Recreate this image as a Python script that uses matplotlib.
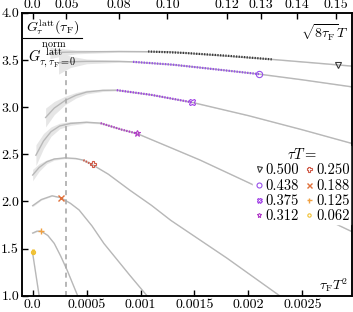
import numpy as np
import matplotlib
matplotlib.use("Agg")
import matplotlib.pyplot as plt

plt.rcParams['font.family'] = 'serif'
plt.rcParams['font.serif'] = ['cmr10', 'DejaVu Serif']
plt.rcParams['mathtext.fontset'] = 'cm'
plt.rcParams['axes.formatter.use_mathtext'] = True

# tau*T values and their plot styles
tauT = ['0.500', '0.438', '0.375', '0.312', '0.250', '0.188', '0.125', '0.062']
colors = ['#3a3a3a', '#9850ea', '#a040e6', '#b23ec8', '#d05a48', '#e0703a', '#f0a040', '#f0c030']
markers = ['v', 'o', 'X', '*', 'P', 'x', '+', 'o']

# grey fit curves (x = tau_F T^2), with band half widths
fit_x = [
    [0.00016, 0.0003, 0.0004, 0.0008, 0.00127, 0.0017, 0.00222, 0.0026, 0.00296],
    [0.00024, 0.00035, 0.0005, 0.0008, 0.00093, 0.0013, 0.00155, 0.0021, 0.0025, 0.00296],
    [0.00012, 0.0002, 0.0003, 0.0004, 0.0005, 0.00065, 0.00078, 0.0011, 0.00148, 0.002, 0.0025, 0.00296],
    [0.00003, 0.0001, 0.00017, 0.00025, 0.00035, 0.0005, 0.00063, 0.00083, 0.000967, 0.00128, 0.00155,
     0.002, 0.0025, 0.00296],
    [0.0, 0.00006, 0.00013, 0.0002, 0.0003, 0.0004, 0.00047, 0.00055, 0.0007, 0.0009, 0.0011, 0.00128,
     0.0018, 0.00229],
    [0.0, 0.00008, 0.00018, 0.00026, 0.00035, 0.00043, 0.00055, 0.00066, 0.0009, 0.00106],
    [0.0, 0.00004, 0.000078, 0.00014, 0.0002, 0.00026, 0.00032, 0.000417],
    [0.0, 0.00006],
]
fit_y = [
    [3.575, 3.582, 3.585, 3.59, 3.586, 3.55, 3.506, 3.47, 3.435],
    [3.47, 3.48, 3.485, 3.485, 3.48, 3.45, 3.42, 3.35, 3.29, 3.215],
    [2.89, 2.99, 3.07, 3.125, 3.16, 3.178, 3.18, 3.13, 3.05, 2.91, 2.76, 2.615],
    [2.49, 2.64, 2.74, 2.80, 2.827, 2.84, 2.83, 2.76, 2.72, 2.57, 2.44, 2.2, 1.93, 1.68],
    [2.28, 2.36, 2.42, 2.45, 2.462, 2.455, 2.438, 2.392, 2.29, 2.12, 1.96, 1.8, 1.40, 1.0],
    [1.955, 2.02, 2.06, 2.04, 1.98, 1.91, 1.74, 1.555, 1.218, 1.0],
    [1.665, 1.685, 1.685, 1.64, 1.555, 1.42, 1.27, 1.0],
    [1.45, 1.0],
]
fit_err = [
    [0.06, 0.035, 0.02, 0.008, 0.005, 0.004, 0.004, 0.004, 0.004],
    [0.12, 0.06, 0.025, 0.01, 0.006, 0.005, 0.005, 0.004, 0.004, 0.004],
    [0.1, 0.07, 0.045, 0.03, 0.02, 0.012, 0.008, 0.005, 0.005, 0.004, 0.004, 0.004],
    [0.11, 0.08, 0.05, 0.03, 0.02, 0.01, 0.008, 0.005, 0.005, 0.004, 0.004, 0.004, 0.004, 0.004],
    [0.06, 0.04, 0.02, 0.012, 0.008, 0.006, 0.005, 0.005, 0.004, 0.004, 0.004, 0.004, 0.004, 0.004],
    [0.01, 0.006, 0.005, 0.004, 0.004, 0.004, 0.004, 0.004, 0.004, 0.004],
    [0.006, 0.005, 0.004, 0.004, 0.004, 0.004, 0.004, 0.004],
    [0.004, 0.004],
]

# coloured lattice data segments
data_x = [
    [0.00107, 0.0014, 0.0018, 0.00222],
    [0.00093, 0.0013, 0.0017, 0.0021],
    [0.00078, 0.0011, 0.00148],
    [0.00063, 0.00083, 0.000967],
    [0.00047, 0.00055],
]
data_y = [
    [3.59, 3.575, 3.545, 3.506],
    [3.48, 3.45, 3.40, 3.35],
    [3.18, 3.13, 3.05],
    [2.83, 2.76, 2.72],
    [2.438, 2.392],
]

# flow time limit markers
mark_x = [0.00283, 0.0021, 0.00148, 0.000967, 0.000556, 0.000263, 0.0000778, 0.0]
mark_y = [3.45, 3.353, 3.056, 2.721, 2.392, 2.038, 1.685, 1.466]

top_ticks = [0.0, 0.05, 0.08, 0.10, 0.12, 0.13, 0.14, 0.15]
top_labels = ['0.0', '0.05', '0.08', '0.10', '0.12', '0.13', '0.14', '0.15']
bot_ticks = [0.0, 0.0005, 0.001, 0.0015, 0.002, 0.0025]
bot_labels = ['0.0', '0.0005', '0.001', '0.0015', '0.002', '0.0025']
y_ticks = [1.0, 1.5, 2.0, 2.5, 3.0, 3.5, 4.0]

fig = plt.figure(figsize=(3.53, 3.12), dpi=100)
ax = fig.add_axes([0.062, 0.052, 0.935, 0.907])

for i in range(len(fit_x)):
    fx = np.array(fit_x[i])
    fy = np.array(fit_y[i])
    fe = np.array(fit_err[i])
    ax.fill_between(fx, fy - fe, fy + fe, color='#e6e6e6', lw=0, zorder=1)
    ax.plot(fx, fy, color='#b8b8b8', lw=1.0, zorder=2)

for i in range(len(data_x)):
    ax.plot(data_x[i], data_y[i], color=colors[i], lw=1.6, ls=(0, (0.6, 0.6)), zorder=3)

handles = []
for i in range(len(tauT)):
    ms = 4.5 if i < 7 else 3
    if markers[i] in ['x', '+']:
        h, = ax.plot(mark_x[i], mark_y[i], ls='none', marker=markers[i], color=colors[i],
                     ms=ms, mew=1.0, zorder=4, label=tauT[i])
    else:
        h, = ax.plot(mark_x[i], mark_y[i], ls='none', marker=markers[i], color=colors[i],
                     mfc='none', ms=ms, mew=0.8, zorder=4, label=tauT[i])
    handles.append(h)
ax.errorbar(mark_x[7], mark_y[7], yerr=0.025, color=colors[7], lw=2, capsize=0, zorder=4)

ax.vlines(0.05 ** 2 / 8, 1.0, 3.41, color='#aaaaaa', ls=(0, (3, 2.5)), lw=1.2, zorder=2)

ax.set_xlim(-0.0001, 0.00296)
ax.set_ylim(1.0, 4.0)
ax.set_xticks(bot_ticks)
ax.set_xticklabels(bot_labels)
ax.set_yticks(y_ticks)
ax.set_yticklabels(['%.1f' % v for v in y_ticks])
ax.tick_params(direction='in', labelsize=10, length=4, width=1, pad=2)

ax2 = ax.twiny()
ax2.set_xlim(ax.get_xlim())
ax2.set_xticks([t ** 2 / 8 for t in top_ticks])
ax2.set_xticklabels(top_labels)
ax2.tick_params(direction='in', labelsize=10, length=4, width=1, pad=1)

for a in [ax, ax2]:
    for s in a.spines.values():
        s.set_linewidth(1.1)

ax.text(0.99, 0.965, r'$\sqrt{8\tau_{\rm F}}T$', transform=ax.transAxes, ha='right', va='top', fontsize=10)
ax.text(0.99, 0.008, r'$\tau_{\rm F}T^2$', transform=ax.transAxes, ha='right', va='bottom', fontsize=10)

# y label as a fraction: numerator, bar, denominator
ax.text(0.092, 0.915, r'$G^{\rm latt}_{\tau}(\tau_{\rm F})$', transform=ax.transAxes,
        ha='center', va='bottom', fontsize=10, zorder=6)
ax.plot([0.003, 0.182], [0.912, 0.912], transform=ax.transAxes, color='black', lw=0.8,
        zorder=6, clip_on=False)
ax.text(0.092, 0.902, r'$G^{\substack{\rm norm \\ \rm latt}}_{\tau,\tau_{\rm F}=0}$', transform=ax.transAxes,
        ha='center', va='top', fontsize=10.5, zorder=6)

leg = ax.legend(handles=handles, ncol=2, title=r'$\tau T =$', loc='upper right',
                bbox_to_anchor=(0.998, 0.53), fontsize=10.5, title_fontsize=10.5,
                handlelength=0.5, handletextpad=0.25, columnspacing=0.4, labelspacing=0.1,
                borderpad=0.1, borderaxespad=0, frameon=True, fancybox=False,
                framealpha=1, edgecolor='white', markerscale=0.8)
leg.set_zorder(7)

fig.savefig('out.png', dpi=100)
